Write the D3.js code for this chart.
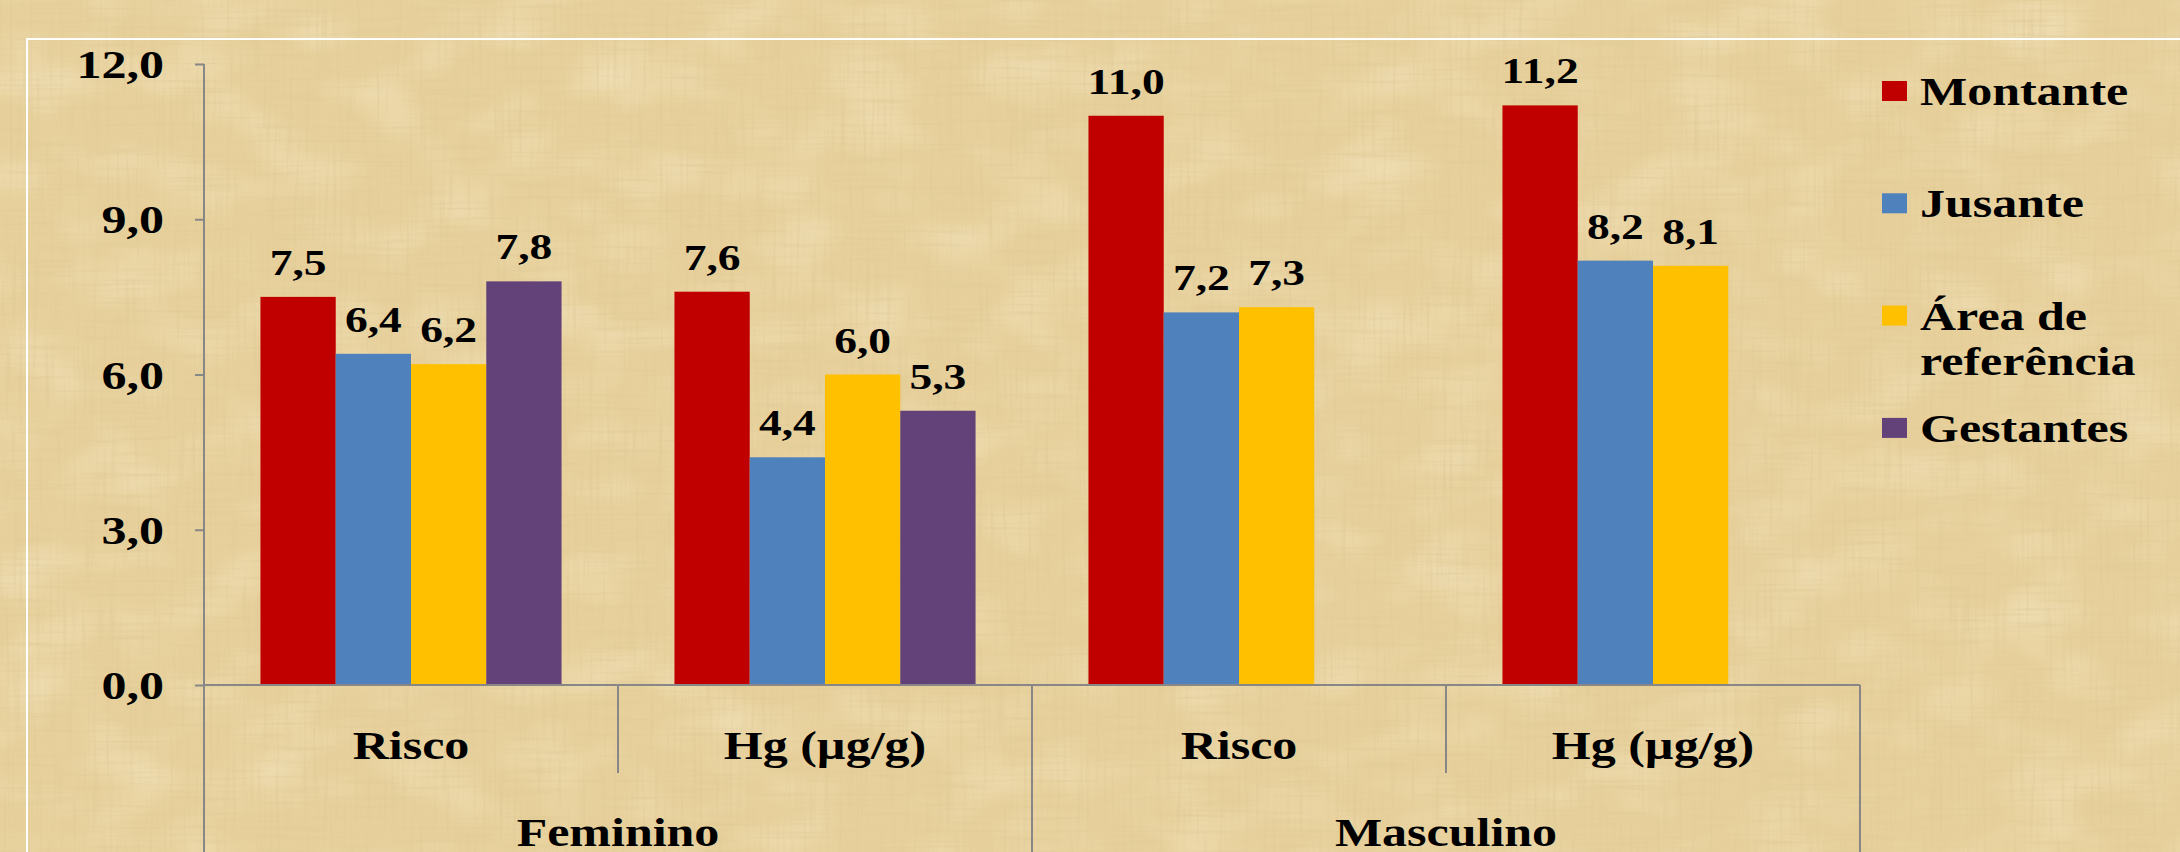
<!DOCTYPE html>
<html>
<head>
<meta charset="utf-8">
<script src="https://cdn.jsdelivr.net/npm/d3@7"></script>
<style>
  html, body { margin: 0; padding: 0; background: #E7D09B; }
  svg { display: block; }
  text { font-family: "Liberation Serif", "Times New Roman", serif; font-weight: bold; fill: #000; }
</style>
</head>
<body>
<svg id="chart" width="2180" height="852"></svg>
<script>
// Mercury risk and concentration by sex and sampling site
const categories = ["Risco", "Hg (µg/g)", "Risco", "Hg (µg/g)"];
const groups = ["Feminino", "Masculino"];
const series = ["Montante", "Jusante", "Área de referência", "Gestantes"];
const legendLines = [["Montante"], ["Jusante"], ["Área de", "referência"], ["Gestantes"]];
const montante = [7.5, 7.6, 11.0, 11.2];
const jusante = [6.4, 4.4, 7.2, 8.2];
const areaReferencia = [6.2, 6.0, 7.3, 8.1];
const gestantes = [7.8, 5.3, null, null];
const yTicks = [0, 3, 6, 9, 12];
const colors = ["#C00000", "#4F81BD", "#FFC000", "#634179"];

const values = [montante, jusante, areaReferencia, gestantes];
const W = 2180, H = 852;
const stretch = 1.25;      // wide lettering
const svg = d3.select("#chart");

// ---- papyrus-like background: soft patches plus crossed fibres ----
const defs = svg.append("defs");
const f = defs.append("filter").attr("id", "fibers")
  .attr("filterUnits", "userSpaceOnUse")
  .attr("x", 0).attr("y", 0).attr("width", W).attr("height", H);
f.append("feTurbulence").attr("type", "fractalNoise").attr("baseFrequency", "0.012 0.02").attr("numOctaves", 2).attr("seed", 2).attr("result", "bn");
f.append("feColorMatrix").attr("in", "bn").attr("type", "matrix")
  .attr("values", "0 0 0 0 0.98  0 0 0 0 0.92  0 0 0 0 0.74  1.4 0 0 0 -0.62").attr("result", "bf");
f.append("feTurbulence").attr("type", "fractalNoise").attr("baseFrequency", "0.3 0.012").attr("numOctaves", 2).attr("seed", 4).attr("result", "vn");
f.append("feColorMatrix").attr("in", "vn").attr("type", "matrix")
  .attr("values", "0 0 0 0 0.70  0 0 0 0 0.56  0 0 0 0 0.28  1.8 0 0 0 -0.88").attr("result", "vf");
f.append("feTurbulence").attr("type", "fractalNoise").attr("baseFrequency", "0.012 0.3").attr("numOctaves", 2).attr("seed", 9).attr("result", "hn");
f.append("feColorMatrix").attr("in", "hn").attr("type", "matrix")
  .attr("values", "0 0 0 0 0.70  0 0 0 0 0.56  0 0 0 0 0.28  1.8 0 0 0 -0.9").attr("result", "hf");
const fm = f.append("feMerge");
fm.append("feMergeNode").attr("in", "bf");
fm.append("feMergeNode").attr("in", "vf");
fm.append("feMergeNode").attr("in", "hf");

svg.append("rect").attr("width", W).attr("height", H).attr("fill", "#E7D09B");
svg.append("rect").attr("width", W).attr("height", H).attr("filter", "url(#fibers)").attr("opacity", 0.5);

// chart frame
svg.append("rect").attr("x", 27).attr("y", 39).attr("width", W).attr("height", H)
  .attr("fill", "none").attr("stroke", "#fff").attr("stroke-width", 2);

// ---- scales ----
const x0 = d3.scaleBand().domain(d3.range(categories.length)).range([204, 1860]).padding(0);
const x1 = d3.scaleBand().domain(d3.range(series.length)).range([0, x0.bandwidth()])
  .paddingInner(0).paddingOuter(0.75);
const y = d3.scaleLinear().domain([0, 12]).range([685, 64]);
const fmt = d3.formatLocale({ decimal: ",", thousands: ".", grouping: [3], currency: ["R$", ""] }).format(".1f");

const axisColor = "#878787";

// wide text helper
function wideText(parent, x, yy, str, size, anchor) {
  return parent.append("g").attr("transform", `translate(${x},${yy}) scale(${stretch},1)`)
    .append("text").attr("text-anchor", anchor || "middle").style("font-size", size + "px").text(str);
}

// ---- bars ----
const barData = [];
values.forEach((vals, s) => vals.forEach((v, c) => { if (v != null) barData.push({ s, c, v }); }));

svg.append("g").selectAll("rect").data(barData).join("rect")
  .attr("x", d => x0(d.c) + x1(d.s))
  .attr("y", d => y(d.v))
  .attr("width", x1.bandwidth())
  .attr("height", d => y(0) - y(d.v))
  .attr("fill", d => colors[d.s]);

// value labels
const lbl = svg.append("g");
barData.forEach(d => {
  lbl.append("g")
    .attr("transform", `translate(${x0(d.c) + x1(d.s) + x1.bandwidth() / 2},${y(d.v) - 22}) scale(1.3,1)`)
    .append("text").attr("text-anchor", "middle").style("font-size", "35px").text(fmt(d.v));
});

// ---- y axis ----
const yAxis = svg.append("g").attr("transform", "translate(204,0)")
  .call(d3.axisLeft(y).tickValues(yTicks).tickSize(9).tickPadding(0).tickFormat(fmt));
yAxis.select(".domain").remove();
yAxis.selectAll(".tick line").attr("stroke", axisColor).attr("stroke-width", 2);
yAxis.selectAll(".tick text")
  .attr("x", -40 / stretch).attr("dy", "0.34em")
  .attr("transform", `scale(${stretch},1)`)
  .style("font-size", "40px").attr("fill", "#000");
svg.append("line").attr("x1", 204).attr("x2", 204).attr("y1", y(12)).attr("y2", H)
  .attr("stroke", axisColor).attr("stroke-width", 2);

// ---- x axis with two-level categories ----
const xa = svg.append("g");
xa.append("line").attr("x1", 204).attr("x2", 1860).attr("y1", y(0)).attr("y2", y(0))
  .attr("stroke", axisColor).attr("stroke-width", 2);
const bounds = d3.range(categories.length + 1).map(i => i < categories.length ? x0(i) : x0.range()[1]);
bounds.forEach((bx, i) => {
  xa.append("line").attr("x1", bx).attr("x2", bx).attr("y1", y(0))
    .attr("y2", i % 2 === 0 ? H : 773)
    .attr("stroke", axisColor).attr("stroke-width", 2);
});
categories.forEach((c, i) => wideText(svg, x0(i) + x0.bandwidth() / 2, 759, c, 40));
groups.forEach((g, i) => wideText(svg, x0(i * 2) + x0.bandwidth(), 846, g, 40));

// ---- legend ----
const lg = svg.append("g");
series.forEach((s, i) => {
  const cy = 91 + i * 112.3;
  lg.append("rect").attr("x", 1882).attr("y", cy - 10).attr("width", 25).attr("height", 20).attr("fill", colors[i]);
  legendLines[i].forEach((line, j) => wideText(lg, 1920, cy + 14 + j * 45, line, 40, "start"));
});
</script>
</body>
</html>
